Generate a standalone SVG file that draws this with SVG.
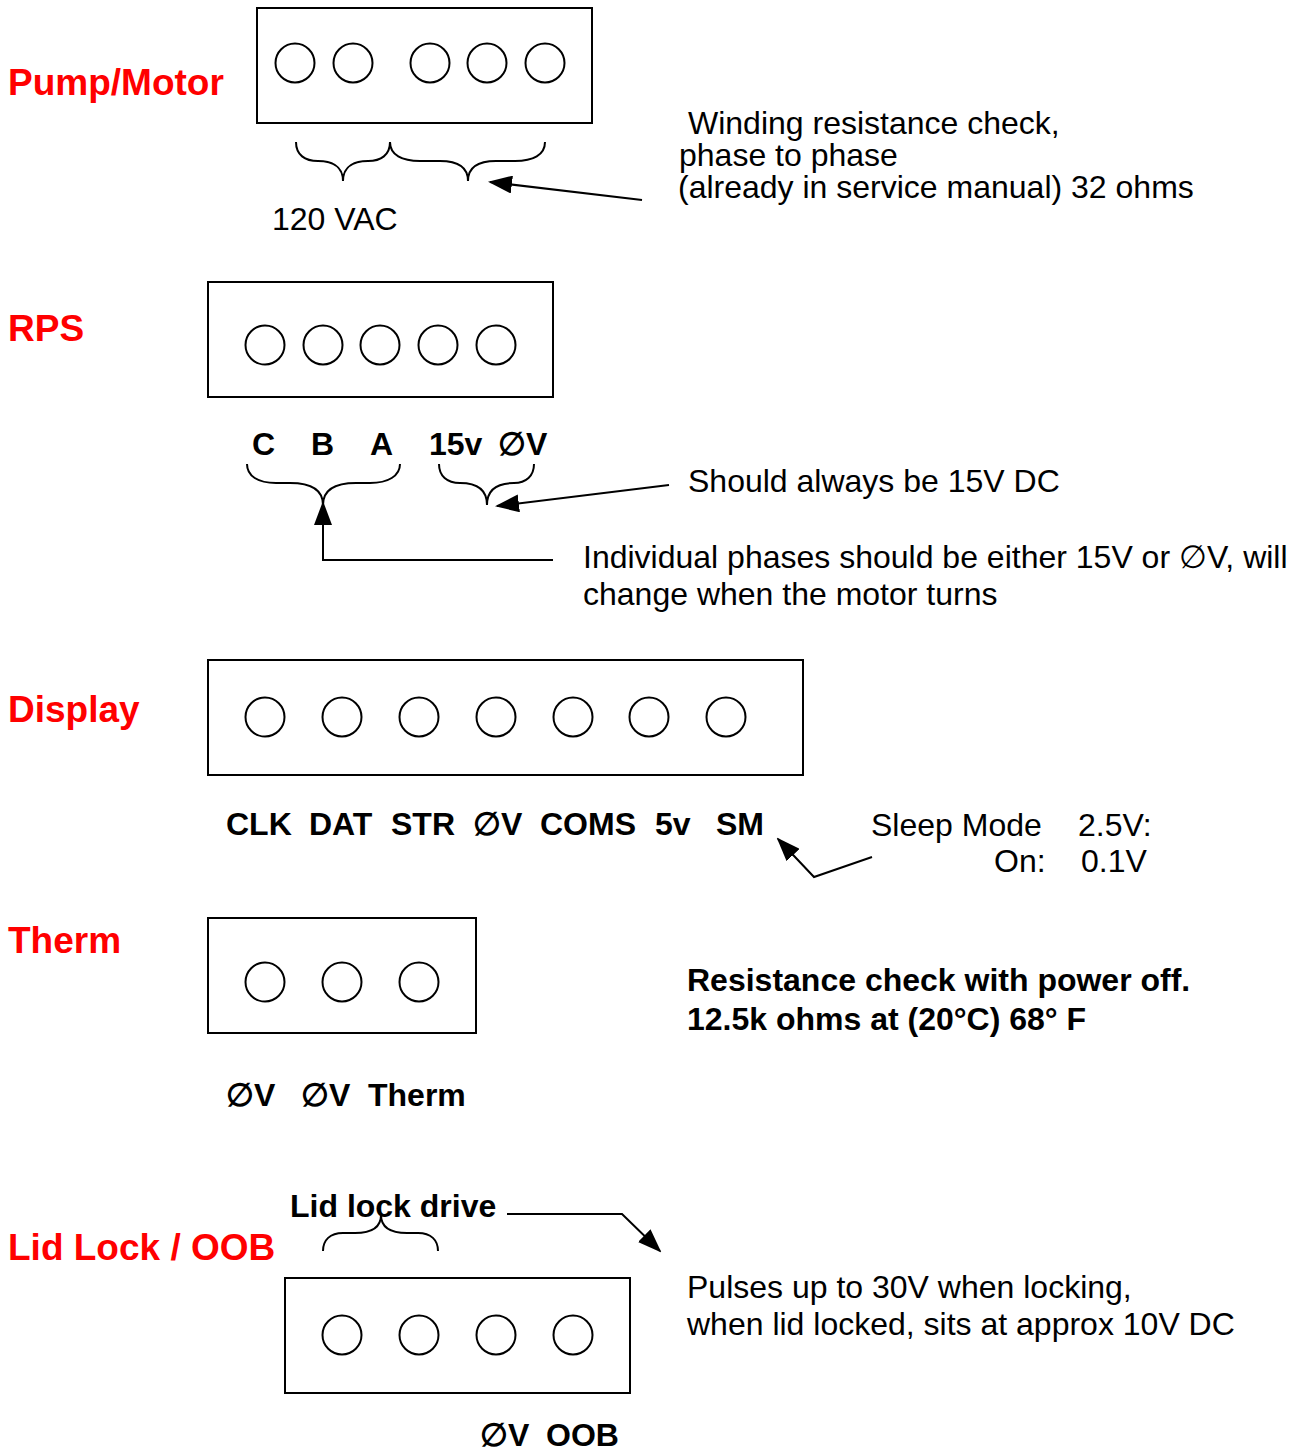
<svg xmlns="http://www.w3.org/2000/svg" width="1305" height="1450" viewBox="0 0 1305 1450">
<style>
.bg{fill:#ffffff}
.box{fill:none;stroke:#000;stroke-width:2}
.pin{fill:none;stroke:#000;stroke-width:2}
.ln{fill:none;stroke:#000;stroke-width:2}
.hd{font-family:"Liberation Sans",Arial,sans-serif;font-weight:bold;font-size:37px;fill:#ff0000}
.lb{font-family:"Liberation Sans",Arial,sans-serif;font-weight:bold;font-size:32px;fill:#000}
.tx{font-family:"Liberation Sans",Arial,sans-serif;font-size:32px;fill:#000}
</style>
<defs>
<marker id="ah" markerWidth="24" markerHeight="18" refX="22" refY="9" orient="auto" markerUnits="userSpaceOnUse">
<path d="M0,0 L24,9 L0,18 Z" fill="#000"/>
</marker>
</defs>
<rect class="bg" x="0" y="0" width="1305" height="1450"/>

<g id="pump-motor">
<text class="hd" x="8" y="95">Pump/Motor</text>
<rect class="box" x="257" y="8" width="335" height="115"/>
<circle class="pin" cx="295" cy="63" r="19.5"/>
<circle class="pin" cx="353" cy="63" r="19.5"/>
<circle class="pin" cx="430" cy="63" r="19.5"/>
<circle class="pin" cx="487" cy="63" r="19.5"/>
<circle class="pin" cx="545" cy="63" r="19.5"/>
<path class="ln" d="M296,142 C296,155 305,161 318,161 C330,161 343,165 343,181 C343,165 356,161 368,161 C381,161 390,155 390,142"/>
<path class="ln" d="M390,142 C390,155 402,161 420,161 L440,161 C455,161 468,165 468,181 C468,165 481,161 496,161 L515,161 C533,161 545,155 545,142"/>
<text class="tx" x="272" y="230">120 VAC</text>
<text class="tx" x="688" y="134">Winding resistance check,</text>
<text class="tx" x="679" y="166">phase to phase</text>
<text class="tx" x="678" y="198">(already in service manual) 32 ohms</text>
</g>

<g id="rps">
<text class="hd" x="8" y="341">RPS</text>
<rect class="box" x="208" y="282" width="345" height="115"/>
<circle class="pin" cx="265" cy="345" r="19.5"/>
<circle class="pin" cx="323" cy="345" r="19.5"/>
<circle class="pin" cx="380" cy="345" r="19.5"/>
<circle class="pin" cx="438" cy="345" r="19.5"/>
<circle class="pin" cx="496" cy="345" r="19.5"/>
<text class="lb" x="252" y="455">C</text>
<text class="lb" x="311" y="455">B</text>
<text class="lb" x="370" y="455">A</text>
<text class="lb" x="429" y="455">15v</text>
<text class="lb" x="498" y="455">∅V</text>
<path class="ln" d="M247,464 C247,476 258,483 276,483 L290,483 C308,483 323,488 323,505 C323,488 338,483 356,483 L370,483 C388,483 400,476 400,464"/>
<path class="ln" d="M439,464 C439,476 447,483 460,483 C475,483 487,488 487,505 C487,488 499,483 514,483 C526,483 534,476 534,464"/>
<text class="tx" x="688" y="492">Should always be 15V DC</text>
<text class="tx" x="583" y="568">Individual phases should be either 15V or ∅V, will</text>
<text class="tx" x="583" y="605">change when the motor turns</text>
</g>

<g id="display">
<text class="hd" x="8" y="722">Display</text>
<rect class="box" x="208" y="660" width="595" height="115"/>
<circle class="pin" cx="265" cy="717" r="19.5"/>
<circle class="pin" cx="342" cy="717" r="19.5"/>
<circle class="pin" cx="419" cy="717" r="19.5"/>
<circle class="pin" cx="496" cy="717" r="19.5"/>
<circle class="pin" cx="573" cy="717" r="19.5"/>
<circle class="pin" cx="649" cy="717" r="19.5"/>
<circle class="pin" cx="726" cy="717" r="19.5"/>
<text class="lb" x="226" y="835">CLK</text>
<text class="lb" x="309" y="835">DAT</text>
<text class="lb" x="391" y="835">STR</text>
<text class="lb" x="473" y="835">∅V</text>
<text class="lb" x="540" y="835">COMS</text>
<text class="lb" x="655" y="835">5v</text>
<text class="lb" x="716" y="835">SM</text>
<text class="tx" x="871" y="836">Sleep Mode</text>
<text class="tx" x="1078" y="836">2.5V:</text>
<text class="tx" x="994" y="872">On:</text>
<text class="tx" x="1081" y="872">0.1V</text>
</g>

<g id="therm">
<text class="hd" x="8" y="953">Therm</text>
<rect class="box" x="208" y="918" width="268" height="115"/>
<circle class="pin" cx="265" cy="982" r="19.5"/>
<circle class="pin" cx="342" cy="982" r="19.5"/>
<circle class="pin" cx="419" cy="982" r="19.5"/>
<text class="lb" x="226" y="1106">∅V</text>
<text class="lb" x="301" y="1106">∅V</text>
<text class="lb" x="368" y="1106">Therm</text>
<text class="lb" x="687" y="991">Resistance check with power off.</text>
<text class="lb" x="687" y="1030">12.5k ohms at (20°C) 68° F</text>
</g>

<g id="lid-lock-oob">
<text class="hd" x="8" y="1260">Lid Lock / OOB</text>
<text class="lb" x="290" y="1217">Lid lock drive</text>
<path class="ln" d="M323,1251 C323,1240 330,1233 343,1233 L355,1233 C370,1233 381,1229 381,1215 C381,1229 392,1233 407,1233 L418,1233 C431,1233 438,1240 438,1251"/>
<rect class="box" x="285" y="1278" width="345" height="115"/>
<circle class="pin" cx="342" cy="1335" r="19.5"/>
<circle class="pin" cx="419" cy="1335" r="19.5"/>
<circle class="pin" cx="496" cy="1335" r="19.5"/>
<circle class="pin" cx="573" cy="1335" r="19.5"/>
<text class="tx" x="687" y="1298">Pulses up to 30V when locking,</text>
<text class="tx" x="687" y="1335">when lid locked, sits at approx 10V DC</text>
<text class="lb" x="480" y="1446">∅V</text>
<text class="lb" x="546" y="1446">OOB</text>
</g>

<g id="connectors">
<line class="ln" x1="642" y1="200" x2="490" y2="182" marker-end="url(#ah)"/>
<line class="ln" x1="669" y1="485" x2="497" y2="506" marker-end="url(#ah)"/>
<polyline class="ln" points="553,560 323,560 323,503" marker-end="url(#ah)"/>
<polyline class="ln" points="872,857 814,877 778,839" marker-end="url(#ah)"/>
<polyline class="ln" points="507,1214 622,1214 660,1251" marker-end="url(#ah)"/>
</g>
</svg>
